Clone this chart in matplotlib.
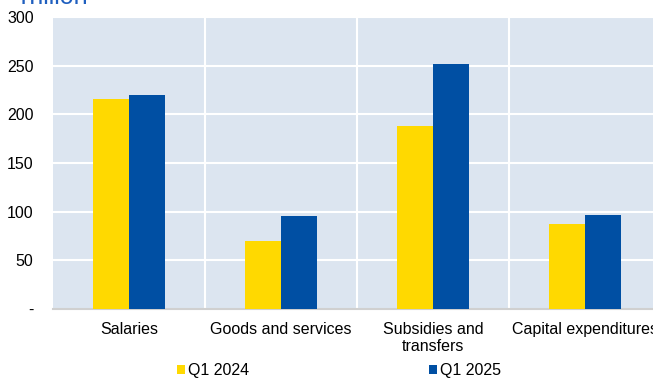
import matplotlib.pyplot as plt
import numpy as np

plt.rcParams['font.family'] = ['Liberation Sans', 'DejaVu Sans']

categories = ['Salaries', 'Goods and services', 'Subsidies and\ntransfers', 'Capital expenditures']
q1_2024 = [216, 70, 188, 87]
q1_2025 = [220, 96, 252, 97]
series_labels = ['Q1 2024', 'Q1 2025']
yticks = [0, 50, 100, 150, 200, 250, 300]
ytick_labels = ['-', '50', '100', '150', '200', '250', '300']

yellow = '#ffd900'
blue = '#004fa3'
fs = 11.5

fig = plt.figure(figsize=(6.53, 3.78), dpi=100)
ax = fig.add_axes([0.0812, 0.1825, 0.931, 0.7725])
ax.set_facecolor('#dce5f0')

x = np.arange(len(categories))
w = 0.237
ax.bar(x - w / 2, q1_2024, w, color=yellow, label=series_labels[0], zorder=3)
ax.bar(x + w / 2, q1_2025, w, color=blue, label=series_labels[1], zorder=3)

ax.set_xlim(-0.5, len(categories) - 0.5)
ax.set_ylim(0, 300)
ax.set_yticks(yticks)
ax.set_yticklabels(ytick_labels)
ax.set_xticks(x)
ax.set_xticklabels(categories)
ax.tick_params(axis='both', length=0, labelsize=fs, colors='#000000')
ax.tick_params(axis='y', pad=14)
ax.tick_params(axis='x', pad=9)

# white grid: horizontal at ticks, vertical between categories
for yv in yticks[1:]:
    ax.axhline(yv, color='white', lw=1.5, zorder=1)
for xv in x[1:] - 0.5:
    ax.axvline(xv, color='white', lw=1.5, zorder=1)

for side in ['top', 'right', 'left']:
    ax.spines[side].set_visible(False)
ax.spines['bottom'].set_color('#d0d0d0')
ax.spines['bottom'].set_linewidth(1.5)

fig.text(16 / 653, 1 - 4 / 378, 'Trillion', color='#1f5fbf', fontsize=18,
         ha='left', va='baseline')

fig.legend(loc='center left', bbox_to_anchor=(163 / 653, 7 / 378), ncol=2, frameon=False,
           fontsize=fs, handlelength=0.5, handleheight=0.5, handletextpad=0.15,
           columnspacing=11.3)

fig.savefig('out.png', dpi=100)
